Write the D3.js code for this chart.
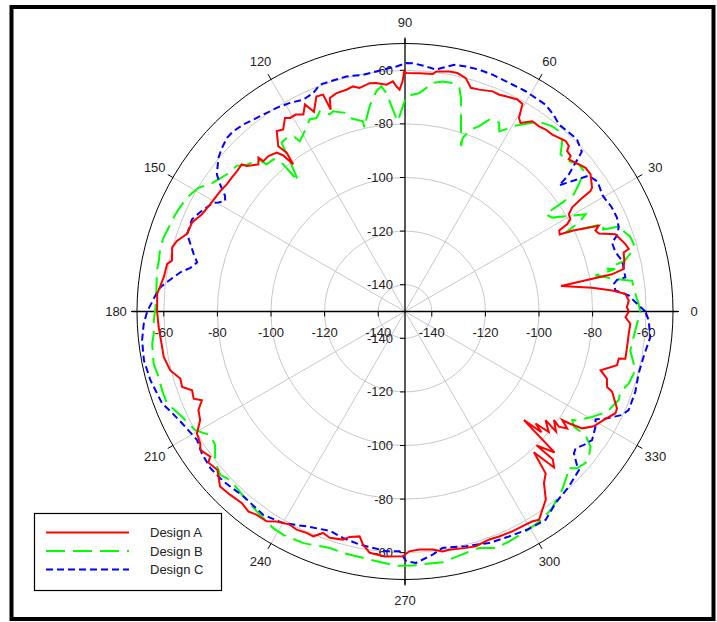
<!DOCTYPE html>
<html>
<head>
<meta charset="utf-8">
<script src="https://cdn.jsdelivr.net/npm/d3@7"></script>
<style>
  body { margin: 0; background: #fff; }
  svg { display: block; font-family: "Liberation Sans", Arial, sans-serif; }
</style>
</head>
<body>
<div id="chart"></div>
<script>
// angle (deg) / level (dB) pairs
const angA = [0, 1.1, 2.8, 4.6, 5.8, 7.2, 9.3, 9.9, 10.2, 11, 13, 15.1, 15.6, 17, 19.1, 20.2, 21.9, 23, 23.9, 24.4, 25.8, 26.5, 27.7, 28.3, 29.2, 30.7, 31.9, 32.6, 33, 33.5, 36.5, 38.5, 40.2, 42.9, 43.2, 44.7, 45.3, 46.7, 48.4, 50.2, 52.3, 54.1, 56.2, 58.5, 59.5, 60.5, 62.1, 64.9, 66.5, 68.3, 71.5, 73.6, 75.4, 77.6, 79.5, 82.6, 83.3, 86.5, 89.6, 90.2, 90.6, 91.4, 92.2, 93, 94.7, 97.2, 98.8, 101.5, 103, 104.8, 107.4, 109.4, 110.2, 110.7, 112.4, 114.5, 115.8, 117.3, 119, 120.7, 121.8, 123.8, 125.4, 127.5, 126.7, 127.2, 128, 128.9, 131.3, 133.3, 133.6, 134.9, 137.4, 138, 140.1, 142.3, 144.5, 146.9, 151.2, 154.4, 157.3, 160.4, 162.8, 164.6, 167.7, 168.7, 171.9, 175.9, 180, 183.6, 188.3, 190.7, 194.1, 196.6, 198.7, 200.3, 202.4, 203.6, 205.5, 207.9, 210.4, 212.8, 214.1, 216.7, 217.5, 220.2, 223.4, 226.4, 229.6, 232, 233.9, 236.6, 238.6, 241.6, 243.6, 246, 247.8, 249.7, 251.6, 254.8, 256.2, 258.6, 259.8, 261.7, 265.2, 269.5, 271, 273.5, 276.6, 278.9, 280.5, 284.5, 286.8, 290.3, 292.7, 296, 299.5, 301.2, 302.8, 304.7, 306.8, 309, 311, 312.5, 313.7, 315, 314.5, 316.7, 317.6, 318.5, 319.4, 320, 322.3, 321.5, 323.9, 323.2, 324.2, 325.4, 325.7, 326.6, 328.7, 331.4, 334.2, 335.4, 338.8, 339.5, 341.6, 343.3, 345.8, 347.6, 347.9, 350.9, 354.3, 356.9, 358.5, 360];
const valA = [-66.5, -67.2, -66.4, -67.5, -72.3, -79.6, -91, -79, -71.6, -67, -66, -65.5, -63.3, -64, -65.6, -66.4, -72, -72.8, -70.9, -74, -80.7, -85.5, -85, -81.3, -79.3, -78.9, -76.5, -72.2, -67.5, -66.3, -63.9, -63.9, -65, -66.6, -65.2, -64.9, -63.1, -62.6, -63.4, -64.1, -64.2, -64.7, -64.6, -67.5, -66.2, -61, -60.5, -61.3, -61.8, -61.6, -62.7, -63, -60, -58.9, -58.9, -59.7, -60.8, -60.9, -61, -60.4, -64.1, -67.2, -65.9, -64, -65.1, -64.1, -63.8, -64.9, -63.8, -64.4, -64.6, -65.5, -69.7, -63.5, -63.2, -68.1, -64.2, -67.3, -66, -66, -65, -68.3, -67.4, -72.3, -76.1, -81, -76, -73.8, -72.8, -72.9, -70.7, -72.5, -69.8, -68, -68.3, -68.3, -68.3, -67.7, -67, -66, -63.9, -63.7, -60.9, -59.9, -61, -59.5, -59.1, -57.3, -57.5, -57.9, -58.4, -58.4, -59.7, -62.5, -62.2, -65.3, -64.7, -67.3, -64.6, -63.5, -60, -59.1, -57.8, -59.4, -57.5, -58.4, -55, -55.5, -56.1, -55.2, -56.1, -56.2, -58.2, -59.6, -59.1, -59.6, -59.4, -61.9, -61, -61.8, -63.4, -64.4, -61.6, -59, -58.3, -58.7, -60.5, -61, -60.6, -59.4, -59.6, -58.9, -58.5, -59.3, -59, -58.7, -58.6, -58.4, -57.6, -60, -62.3, -67.6, -70, -78.8, -69.5, -72, -80, -73.3, -89.9, -82, -85.8, -80, -83.7, -78, -81.2, -78.3, -75.4, -78.7, -76, -70.8, -67.6, -65.5, -62.8, -63, -67.1, -69.5, -70.6, -73.8, -68.4, -68.3, -65.9, -66.1, -66.1, -65.8, -67.7, -66.5];

const angB = [0, 1.9, 4.4, 7.7, 8.7, 10.7, 11.4, 11.9, 13, 14.5, 16.4, 18.5, 20, 21.5, 22.5, 23.8, 26.2, 27.1, 28.3, 32.5, 34.7, 34.7, 34.8, 36.2, 38.1, 40.2, 42.5, 45.3, 47.3, 49.5, 51.5, 53.9, 56, 59.9, 61, 62.4, 63.5, 66.3, 68.2, 70.1, 71.6, 71.3, 75.3, 76.3, 78.2, 80.7, 83.1, 86.2, 89.7, 91.1, 92.2, 94.2, 94.9, 96, 97.4, 99.8, 101.4, 102.4, 102.5, 105.9, 106.4, 109.8, 110.9, 113, 114.6, 116.4, 119.9, 121.7, 122.5, 124.3, 126.2, 127.4, 129.3, 129.7, 130.9, 133.2, 134, 137.1, 139.1, 142.4, 144.7, 146.8, 149, 152.4, 155.7, 157.9, 159.6, 162.9, 165.3, 168.3, 170.6, 175.2, 179, 182, 185, 187.3, 191.7, 194.9, 198, 201.1, 204.8, 209.5, 212.4, 215.1, 218.3, 221.5, 223.9, 228.9, 233.5, 238.7, 241.4, 246.3, 252.4, 255.6, 261.9, 268, 271.8, 273.3, 278.5, 284.2, 287.4, 291, 294.4, 298.8, 303.4, 306.8, 311.4, 314.8, 316, 317.7, 320.5, 321.7, 323.9, 325.6, 325.7, 327, 328, 330.6, 333.6, 337.5, 339.5, 342.2, 345.7, 350.2, 355.3, 360];
const valB = [-62.2, -62.8, -63.8, -64.5, -70, -77.7, -70, -73, -66, -63, -61, -61.5, -63, -62.9, -70, -69, -83.2, -77.1, -73.5, -84.8, -86.2, -78.6, -73.3, -69.6, -65.1, -65, -67, -67.5, -63.5, -61.5, -61.7, -62.9, -65.1, -70.1, -72.3, -74.1, -71.3, -71.8, -75.5, -77.8, -81.7, -84.8, -67.7, -64.2, -62.9, -63, -64.1, -68.3, -69.7, -75.3, -79, -71.3, -68.2, -65.5, -67.1, -72.3, -76.9, -79.9, -77.3, -74.9, -72.8, -70.6, -71.3, -68.8, -70.6, -70, -73.8, -75.3, -72.4, -71.6, -72, -79.3, -87.1, -77, -74.9, -74.6, -71.2, -69.5, -67, -66.1, -64.7, -63.2, -60.2, -58.2, -57.3, -56.8, -56.6, -55.8, -55.6, -56.2, -56.2, -56.9, -56.9, -56.2, -55.9, -54.9, -54.2, -54.9, -54.7, -54.8, -57.7, -60.1, -63.9, -63.4, -59.7, -58, -59.4, -58.4, -57.1, -55.4, -55.1, -55.6, -57.4, -57, -56.5, -55.1, -55.2, -55.4, -55.4, -57.1, -57.5, -55.5, -55.8, -56.4, -57, -58.4, -61.3, -64.1, -65.8, -63.1, -61.9, -62.6, -64.3, -68.4, -73.7, -75.6, -73.5, -69.9, -65.8, -63.7, -64.2, -62.3, -61.3, -64.7, -63.8, -62.2];

const angC = [0, 1.5, 4.1, 5.7, 7.5, 8.5, 8.8, 11.4, 13.2, 15.7, 18.4, 19.7, 21.5, 23.9, 26.7, 29.3, 30.5, 34, 36.5, 39.3, 39.8, 41, 42.1, 44.9, 45.5, 48, 50.5, 53, 55.8, 58.5, 61.3, 66.3, 69.7, 72.9, 76, 78.7, 82.7, 85.1, 88.2, 89.7, 92, 95.2, 100.1, 104, 108.1, 110.6, 112.8, 115.7, 118.9, 122.2, 125.7, 130.8, 133.6, 135.7, 138.2, 140.5, 143.9, 145.5, 147.3, 148.4, 149.7, 150.4, 153.6, 156.6, 160.4, 164.8, 166.7, 168.5, 170.1, 172.6, 174.3, 176.3, 180, 182.7, 186.3, 190.6, 195.1, 200.7, 203.5, 207, 211.7, 215, 218.9, 223.1, 228.9, 235.1, 240.1, 245.4, 251.1, 254.7, 259, 265.5, 268.7, 270.3, 272.5, 276.5, 279, 284.6, 290, 294.8, 299.3, 304, 308.2, 313.1, 317.7, 318, 320, 321.3, 323.3, 325.5, 328.8, 330.5, 331.9, 334.5, 336.2, 340.8, 345.1, 349.2, 354, 357.9, 360];
const valC = [-60.3, -62.8, -66.3, -71.1, -71.4, -70, -66.8, -66.8, -66.8, -68.4, -68.6, -66, -64.3, -63.5, -63.6, -64.3, -64.5, -63.3, -64.8, -75.7, -70.7, -66, -61.1, -59.3, -59.2, -59.5, -59.6, -58, -56.7, -56.6, -56.3, -56.2, -55.8, -55.6, -55.8, -56.1, -59, -58.2, -57.3, -57.3, -58.5, -59.4, -60.3, -59.6, -59.7, -59.6, -61.6, -62.3, -61.1, -60.2, -59.5, -57.8, -57.1, -57.2, -58.4, -59.8, -63.1, -66.3, -70.2, -71.2, -69.4, -67.8, -65.4, -63.4, -63.7, -68.3, -70.3, -68.3, -64.9, -61.1, -58.3, -56.7, -53.8, -52.4, -51.3, -50.9, -51.6, -53.1, -55.2, -57.1, -58.8, -57.5, -56.8, -57.2, -58.4, -57.5, -58.9, -61.8, -63.5, -62.4, -61.4, -60.3, -60.5, -56.8, -56.1, -58.7, -60.7, -59.5, -58.1, -57.5, -56.7, -56.2, -59.1, -60.5, -62.2, -63.5, -67.7, -68.4, -66.7, -65.3, -66.9, -68.3, -65.2, -60.3, -58.8, -59, -59.8, -59.4, -58, -59, -60.3];

const ringTicks = [-140, -120, -100, -80, -60];
const angleTicks = [0, 30, 60, 90, 120, 150, 180, 210, 240, 270, 300, 330];
const seriesNames = ["Design A", "Design B", "Design C"];
const seriesColors = ["#ff0000", "#00ff00", "#0000ff"];
const seriesDash = [null, "19,8", "7,4"];

const width = 717, height = 622;
const cx = 405, cy = 311.5, outerR = 268;

const svg = d3
  .select("#chart")
  .append("svg")
  .attr("width", width)
  .attr("height", height);

// outer frame
svg
  .append("rect")
  .attr("x", 11.5)
  .attr("y", 7)
  .attr("width", 702)
  .attr("height", 612)
  .attr("fill", "none")
  .attr("stroke", "#000")
  .attr("stroke-width", 4);

const g = svg.append("g").attr("transform", `translate(${cx}, ${cy})`);

const r = d3.scaleLinear().domain([-150, -50]).range([0, outerR]);
const rad = (deg) => (deg * Math.PI) / 180;

// grid rings
g.append("g")
  .selectAll("circle")
  .data(ringTicks)
  .join("circle")
  .attr("r", (d) => r(d))
  .attr("fill", "none")
  .attr("stroke", "#c8c8c8")
  .attr("stroke-width", 1);

// spokes
g.append("g")
  .selectAll("line")
  .data(angleTicks.filter((d) => d % 90 !== 0))
  .join("line")
  .attr("x1", 0)
  .attr("y1", 0)
  .attr("x2", (d) => outerR * Math.cos(rad(d)))
  .attr("y2", (d) => -outerR * Math.sin(rad(d)))
  .attr("stroke", "#c8c8c8")
  .attr("stroke-width", 1);

// outer circle
g.append("circle")
  .attr("r", outerR)
  .attr("fill", "none")
  .attr("stroke", "#000")
  .attr("stroke-width", 1);

// outer ticks
g.append("g")
  .selectAll("line")
  .data(angleTicks)
  .join("line")
  .attr("x1", (d) => outerR * Math.cos(rad(d)))
  .attr("y1", (d) => -outerR * Math.sin(rad(d)))
  .attr("x2", (d) => (outerR + 6) * Math.cos(rad(d)))
  .attr("y2", (d) => -(outerR + 6) * Math.sin(rad(d)))
  .attr("stroke", "#000")
  .attr("stroke-width", 1);

// main axes
g.append("line")
  .attr("x1", -outerR - 5)
  .attr("x2", outerR + 5)
  .attr("y1", 0)
  .attr("y2", 0)
  .attr("stroke", "#000")
  .attr("stroke-width", 1.3);
g.append("line")
  .attr("y1", -outerR - 5)
  .attr("y2", outerR + 5)
  .attr("x1", 0)
  .attr("x2", 0)
  .attr("stroke", "#000")
  .attr("stroke-width", 1.3);

// angle labels
g.append("g")
  .selectAll("text")
  .data(angleTicks)
  .join("text")
  .attr("x", (d) => (outerR + 21) * Math.cos(rad(d)))
  .attr("y", (d) => -(outerR + 21) * Math.sin(rad(d)))
  .attr("text-anchor", "middle")
  .attr("dominant-baseline", "central")
  .attr("font-size", 13)
  .attr("fill", "#222")
  .text((d) => d);

// radial ticks + labels on horizontal and vertical axes
[-1, 1].forEach(function (side) {
  const hx = g.append("g");
  hx.selectAll("line")
    .data(ringTicks)
    .join("line")
    .attr("x1", (d) => side * r(d))
    .attr("x2", (d) => side * r(d))
    .attr("y1", 0)
    .attr("y2", 5)
    .attr("stroke", "#000");
  hx.selectAll("text")
    .data(ringTicks)
    .join("text")
    .attr("x", (d) => side * r(d))
    .attr("y", 21)
    .attr("text-anchor", "middle")
    .attr("dominant-baseline", "central")
    .attr("font-size", 13)
    .attr("fill", "#222")
    .text((d) => d);

  const vy = g.append("g");
  vy.selectAll("line")
    .data(ringTicks)
    .join("line")
    .attr("x1", -5)
    .attr("x2", 0)
    .attr("y1", (d) => side * r(d))
    .attr("y2", (d) => side * r(d))
    .attr("stroke", "#000");
  vy.selectAll("text")
    .data(ringTicks)
    .join("text")
    .attr("x", -12)
    .attr("y", (d) => side * r(d))
    .attr("text-anchor", "end")
    .attr("dominant-baseline", "central")
    .attr("font-size", 13)
    .attr("fill", "#222")
    .text((d) => d);
});

// traces
const line = d3
  .lineRadial()
  .angle((d) => rad(90 - d[0]))
  .radius((d) => r(d[1]));

const series = [
  d3.zip(angA, valA),
  d3.zip(angB, valB),
  d3.zip(angC, valC),
];

[1, 2, 0].forEach(function (i) {
  g.append("path")
    .datum(series[i])
    .attr("d", line)
    .attr("fill", "none")
    .attr("stroke", seriesColors[i])
    .attr("stroke-width", 2)
    .attr("stroke-dasharray", seriesDash[i]);
});

// legend
const legend = svg.append("g").attr("transform", "translate(34, 513)");
legend
  .append("rect")
  .attr("x", 0.5)
  .attr("y", 0.5)
  .attr("width", 187)
  .attr("height", 77)
  .attr("fill", "#fff")
  .attr("stroke", "#000")
  .attr("stroke-width", 1.2);
seriesNames.forEach(function (name, i) {
  const yy = 19.5 + i * 18.5;
  legend
    .append("line")
    .attr("x1", 12)
    .attr("x2", 95)
    .attr("y1", yy)
    .attr("y2", yy)
    .attr("stroke", seriesColors[i])
    .attr("stroke-width", 2)
    .attr("stroke-dasharray", seriesDash[i]);
  legend
    .append("text")
    .attr("x", 116)
    .attr("y", yy)
    .attr("dominant-baseline", "central")
    .attr("font-size", 13)
    .attr("fill", "#222")
    .text(name);
});
</script>
</body>
</html>
